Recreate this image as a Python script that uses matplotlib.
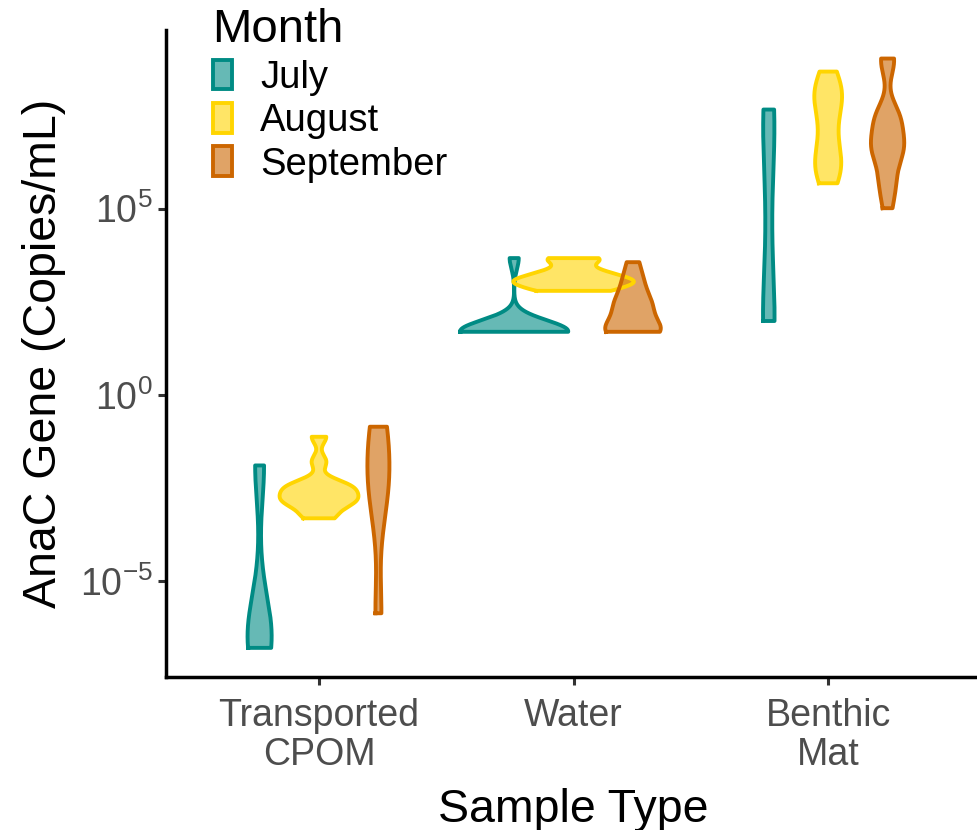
import numpy as np
import matplotlib.pyplot as plt
from matplotlib.patches import Patch
import matplotlib.colors as mcolors

plt.rcParams['font.family'] = ['Liberation Sans', 'DejaVu Sans']
plt.rcParams['mathtext.fontset'] = 'custom'
plt.rcParams['mathtext.rm'] = 'Liberation Sans'

# sample types and months
sample_types = ['Transported\nCPOM', 'Water', 'Benthic\nMat']
months = ['July', 'August', 'September']
edge_colors = ['#008B84', '#FFD500', '#CC6600']

# log10(AnaC copies/mL) per sample, estimated from the violin outlines
cpom_july = [-6.80, -6.80, -6.80, -6.42, -6.27, -5.48, -1.90, -1.90]
cpom_aug = [-3.32, -3.23, -2.91, -2.91, -2.91, -2.75, -2.68, -2.60, -2.45,
            -2.45, -2.37, -1.80, -1.13]
cpom_sep = [-5.87, -5.87, -3.39, -3.16, -2.22, -2.21, -2.16, -2.15, -2.14,
            -0.86, -0.86, -0.86, -0.86]
water_july = [1.69, 1.69, 1.69, 1.69, 1.69, 1.69, 1.69, 1.69, 1.69, 1.69,
              1.69, 1.86, 3.67]
water_aug = [2.79, 2.80, 2.93, 3.04, 3.04, 3.04, 3.21, 3.21, 3.38, 3.63, 3.67]
water_sep = [1.69, 1.69, 1.69, 1.74, 1.74, 1.75, 2.25, 2.35, 2.45, 2.53,
             2.92, 3.11, 3.56]
mat_july = [1.98, 1.98, 1.98, 1.98, 1.98, 1.98, 4.41, 4.93, 6.79, 6.98,
            7.43, 7.52, 7.66, 7.66]
mat_aug = [5.68, 6.15, 6.16, 6.16, 6.20, 6.96, 7.08, 7.75, 7.92, 8.11,
           8.17, 8.19, 8.68]
mat_sep = [5.01, 5.63, 5.76, 6.43, 6.44, 6.64, 6.82, 6.92, 7.45, 7.45,
           7.51, 8.94, 9.03]

groups = [[cpom_july, cpom_aug, cpom_sep],
          [water_july, water_aug, water_sep],
          [mat_july, mat_aug, mat_sep]]


def bw_nrd0(x):
    # same rule as R's bw.nrd0
    sd = x.std(ddof=1)
    iqr = np.subtract(*np.percentile(x, [75, 25]))
    lo = min(sd, iqr / 1.34)
    if lo <= 0:
        lo = sd if sd > 0 else 1.0
    return 0.9 * lo * len(x) ** -0.2


def kde(vals):
    x = np.asarray(vals)
    bw = bw_nrd0(x)
    grid = np.linspace(x.min(), x.max(), 512)
    d = np.exp(-0.5 * ((grid[:, None] - x[None, :]) / bw) ** 2).sum(axis=1)
    d /= len(x) * bw * np.sqrt(2 * np.pi)
    return grid, d


def main():
    fig = plt.figure(figsize=(9.78, 8.3), dpi=100)
    ax = fig.add_axes([0.170, 0.184, 0.833, 0.780])

    dodge = 0.7 / 3
    width_per_density = 0.172  # x units per unit of density (area scaling)

    for i, g in enumerate(groups):
        for j, vals in enumerate(g):
            grid, d = kde(vals)
            xc = i + 1 + (j - 1) * dodge
            hw = d * width_per_density
            y = 10 ** grid
            ax.fill_betweenx(y, xc - hw, xc + hw, facecolor=edge_colors[j],
                             alpha=0.6, edgecolor='none', zorder=2)
            xs = np.concatenate([xc - hw, (xc + hw)[::-1], [xc - hw[0]]])
            ys = np.concatenate([y, y[::-1], [y[0]]])
            ax.plot(xs, ys, color=edge_colors[j], lw=2.8, zorder=3,
                    solid_joinstyle='round')

    ax.set_yscale('log')
    ax.set_ylim(10 ** -7.59, 10 ** 9.8)
    ax.set_xlim(0.4, 3.6)
    ax.set_yticks([1e-5, 1e0, 1e5])
    ax.set_yticklabels([r'$\mathregular{10^{-5}}$', r'$\mathregular{10^{0}}$',
                        r'$\mathregular{10^{5}}$'])
    ax.yaxis.set_minor_locator(plt.NullLocator())
    ax.set_xticks([1, 2, 3])
    ax.set_xticklabels(sample_types, linespacing=1.09)

    for s in ['top', 'right']:
        ax.spines[s].set_visible(False)
    for s in ['left', 'bottom']:
        ax.spines[s].set_linewidth(2.5)
    ax.tick_params(axis='both', length=5.5, width=2.2, color='#333333',
                   labelcolor='#4D4D4D', labelsize=27)
    ax.tick_params(axis='x', pad=9.5)
    ax.tick_params(axis='y', pad=4)

    ax.set_xlabel('Sample Type', fontsize=33.5, labelpad=11)
    ax.set_ylabel('AnaC Gene (Copies/mL)', fontsize=33.5, labelpad=10)

    handles = [Patch(facecolor=mcolors.to_rgba(c, 0.6), edgecolor=c, lw=2.8,
                     label=m) for c, m in zip(edge_colors, months)]
    fig.legend(handles=handles, title='Month', loc='upper left',
               bbox_to_anchor=(0.19, 1.022), frameon=False,
               fontsize=27.5, title_fontsize=34, handlelength=0.5,
               handleheight=0.82, handletextpad=0.75, labelspacing=0.19,
               alignment='left', borderpad=0.2)

    fig.savefig('out.png', dpi=100)


if __name__ == '__main__':
    main()
